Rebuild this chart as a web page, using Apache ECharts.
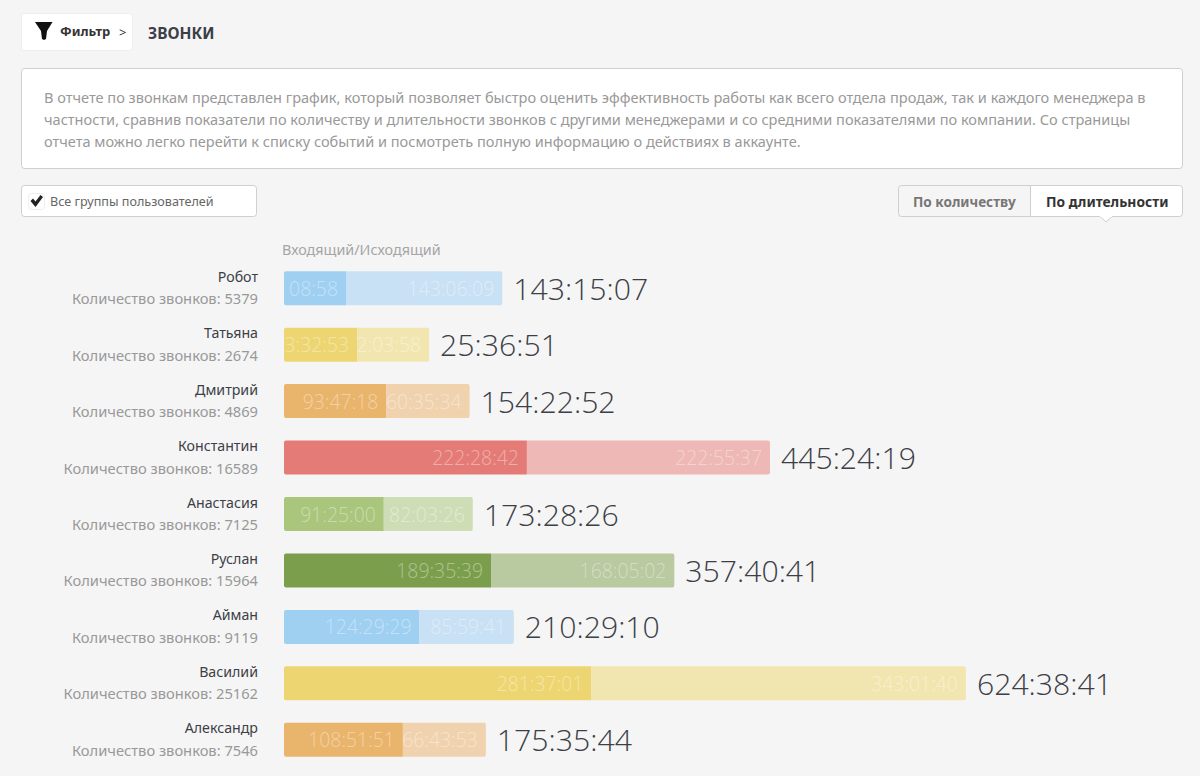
<!DOCTYPE html>
<html><head><meta charset="utf-8">
<style>html,body{margin:0;padding:0;background:#f5f5f5}#c{width:1200px;height:776px}</style>
<script src="https://cdn.jsdelivr.net/npm/echarts@6/dist/echarts.min.js"></script>
</head><body><div id="c"></div>
<script>
const names=['Робот','Татьяна','Дмитрий','Константин','Анастасия','Руслан','Айман','Василий','Александр'];
const counts=[5379,2674,4869,16589,7125,15964,9119,25162,7546];
const incoming=[56.8,66.9,93.8,222.5,91.4,189.6,124.1,281.6,108.9];
const outgoing=[143.1,66,76.2,222.6,81.5,167.9,86.4,343,76];
const inLabels=['08:58','3:32:53','93:47:18','222:28:42','91:25:00','189:35:39','124:29:29','281:37:01','108:51:51'];
const outLabels=['143:06:09','2:03:58','60:35:34','222:55:37','82:03:26','168:05:02','85:59:41','343:01:40','66:43:53'];
const totals=['143:15:07','25:36:51','154:22:52','445:24:19','173:28:26','357:40:41','210:29:10','624:38:41','175:35:44'];
const inColors=['#9fcff1','#edd672','#e9b56c','#e47b77','#a9c67c','#7a9e4c','#9fcff1','#edd672','#e9b56c'];
const outColors=['#c9e1f4','#f2e6b0','#f0d3ae','#edb8b6','#cfddb6','#b9c9a0','#c9e1f4','#f2e6b0','#f0d3ae'];
const descLines=['В отчете по звонкам представлен график, который позволяет быстро оценить эффективность работы как всего отдела продаж, так и каждого менеджера в','частности, сравнив показатели по количеству и длительности звонков с другими менеджерами и со средними показателями по компании. Со страницы','отчета можно легко перейти к списку событий и посмотреть полную информацию о действиях в аккаунте.'];
const F='"Noto Sans"';
const D='"Open Sans"';
const chart=echarts.init(document.getElementById('c'),null,{renderer:'svg'});
const txt=(x,y,t,size,fill,weight)=>({type:'text',x,y,style:{text:t,font:(weight||400)+' '+size+'px '+F,fill,verticalAlign:'middle'}});
const box=(x,y,w,h,fill,stroke,r)=>({type:'rect',shape:{x:x+.5,y:y+.5,width:w,height:h,r:r||3},style:{fill,stroke,lineWidth:1}});
const inside={show:true,position:'insideRight',distance:8,color:'rgba(255,255,255,.4)',fontFamily:D,fontWeight:300,fontSize:19.4};
chart.setOption({
 animation:false,backgroundColor:'#f5f5f5',
 grid:{left:284,right:0,top:260,height:508},
 xAxis:{type:'value',min:0,max:839,show:false},
 yAxis:{type:'category',inverse:true,data:names.map((n,i)=>n+'|'+counts[i]),axisLine:{show:false},axisTick:{show:false},
  axisLabel:{margin:26,align:'right',interval:0,padding:[0,0,2,0],
   formatter:v=>{const p=v.split('|');return '{n|'+p[0]+'}\n{c|Количество звонков: '+p[1]+'}'},
   rich:{n:{fontFamily:F,fontSize:14.2,color:'#3c3f47',lineHeight:22,align:'right'},c:{fontFamily:F,fontSize:14.7,color:'#999999',lineHeight:22,align:'right'}}}},
 series:[
  {type:'bar',stack:'a',barWidth:34,data:incoming.map((v,i)=>({value:v,itemStyle:{color:inColors[i],borderRadius:[2,0,0,2]},label:{formatter:inLabels[i]}})),label:inside},
  {type:'bar',stack:'a',barWidth:34,data:outgoing.map((v,i)=>({value:v,itemStyle:{color:outColors[i],borderRadius:[0,2,2,0]},label:{formatter:outLabels[i]}})),label:inside},
  {type:'bar',stack:'a',barWidth:34,data:names.map((n,i)=>({value:0,label:{formatter:totals[i]}})),
   label:{show:true,position:'right',distance:11,color:'#3c3f47',fontFamily:D,fontWeight:300,fontSize:30.2}}
 ],
 graphic:{elements:[
  box(21,13,111,37,'#ffffff','#eeeeee'),
  {type:'polygon',shape:{points:[[35,22],[52.5,22],[47,31],[46,39],[44,40],[42,39],[41,31]]},style:{fill:'#111'}},
  txt(60,31,'Фильтр',13,'#333',700),
  txt(119,32,'>',13,'#333',400),
  txt(148,33,'ЗВОНКИ',15.5,'#3c3f47',700),
  box(21,68,1161,100,'#ffffff','#cfcfcf'),
  ...descLines.map((l,i)=>txt(44,96.5+22*i,l,14.56,'#999999')),
  box(21,185,235,31,'#ffffff','#cfcfcf'),
  box(28,193,16,16,'#ffffff','#eeeeee'),
  {type:'polygon',shape:{points:[[30.5,201],[33,198.5],[35.5,201.5],[40.5,195],[43,197],[35.5,207],[30.5,201]]},style:{fill:'#222'}},
  txt(50,201,'Все группы пользователей',12.6,'#666'),
  box(898,185,132,31,'#f5f5f5','#cfcfcf',[3,0,0,3]),
  box(1030,185,152,31,'#ffffff','#cfcfcf',[0,3,3,0]),
  {type:'polygon',shape:{points:[[1100,216.5],[1112,216.5],[1106,222]]},style:{fill:'#fff',stroke:'#cfcfcf'}},
  {type:'rect',shape:{x:1100,y:215,width:12,height:2},style:{fill:'#fff'}},
  txt(913,201,'По количеству',13.6,'#777',700),
  txt(1046,201,'По длительности',13.8,'#333',700),
  txt(282,249.5,'Входящий/Исходящий',14.35,'#a5a5a5')
 ]}
});
</script></body></html>
